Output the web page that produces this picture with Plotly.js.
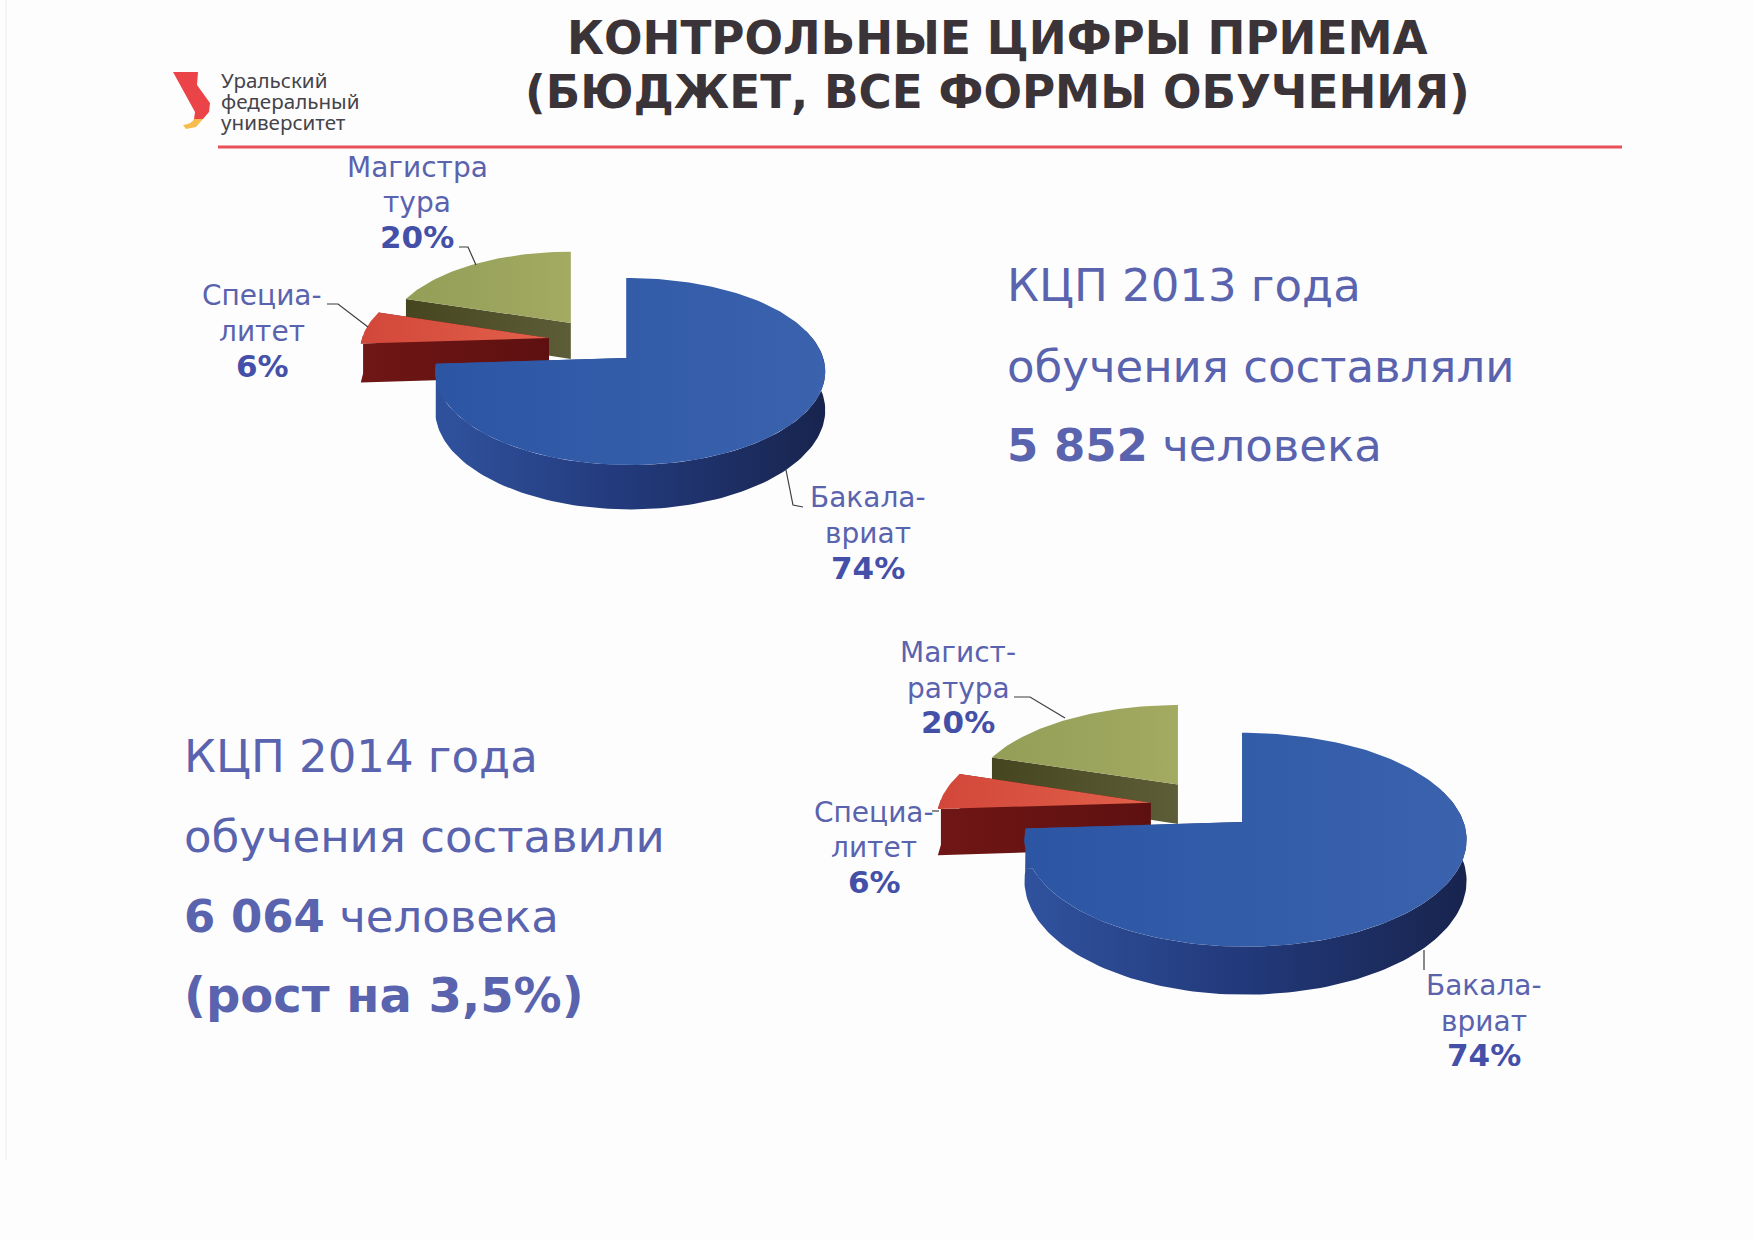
<!DOCTYPE html>
<html><head><meta charset="utf-8">
<script src="https://cdn.plot.ly/plotly-3.0.1.min.js"></script>
<style>html,body{margin:0;padding:0;background:#fdfdfe}</style></head>
<body><div id="chart" style="width:1753px;height:1240px"></div>
<script>
// ---- data ----
const categories = ["Бакалавриат", "Специалитет", "Магистратура"];
const shares2013 = [74, 6, 20];
const shares2014 = [74, 6, 20];
const title1 = "КОНТРОЛЬНЫЕ ЦИФРЫ ПРИЕМА";
const title2 = "(БЮДЖЕТ, ВСЕ ФОРМЫ ОБУЧЕНИЯ)";
const logoLines = ["Уральский", "федеральный", "университет"];
const labels2013 = [["Бакала-", "вриат"], ["Специа-", "литет"], ["Магистра", "тура"]];
const labels2014 = [["Бакала-", "вриат"], ["Специа-", "литет"], ["Магист-", "ратура"]];
const text2013 = ["КЦП 2013 года", "обучения составляли", "<b>5 852</b> человека"];
const text2014 = ["КЦП 2014 года", "обучения составили", "<b>6 064</b> человека", "<b>(рост на 3,5%)</b>"];

// ---- presentation ----
const textBlue = "#5a63ae", boldBlue = "#4450a8";
const topColors  = [["#2c56a4","#3a62ad"], ["#d2473a","#e2604a"], ["#939e56","#a3aa62"]];
const sideColors = [["#30529e","#22397a","#18244e"], ["#701616","#5e1010"], ["#45451f","#5d5e38"]];
const charts = [
  {shares: shares2013, cx: 632, cy: 358, rx: 193, ry: 91.6, k: .144, depth: 38,
   off: [[-.030,0],[-.43,.225],[-.317,.404]], radius: [1,1,.99], arcShift: [4,0,0], depthMult: [1,1.05,1]},
  {shares: shares2014, cx: 1249, cy: 822, rx: 218, ry: 104, k: .166, depth: 40,
   off: [[-.032,0],[-.45,.191],[-.326,.383]], radius: [1,1,1], arcShift: [3.5,0,0], depthMult: [1,1.18,1.05]}
];
const rad = d => d * Math.PI / 180;
function scale(stops){return stops.map((c,i)=>[i/(stops.length-1),c]);}
function pt(c, i, a, z, r){
  const o = c.off[i];
  const lu = r*Math.sin(rad(a)), v = o[1] + r*Math.cos(rad(a));
  const s = 1/(1 + c.k*v);
  const ease = Math.min(1, a/40);
  return [c.cx + c.rx*(o[0] + lu*s) + (r ? c.arcShift[i]*ease : 0), c.cy - c.ry*v*s + z*c.depth*c.depthMult[i]*s];
}
function range(a0,a1){const n=Math.max(2,Math.ceil((a1-a0)/1.5));const out=[];for(let i=0;i<=n;i++)out.push(a0+(a1-a0)*i/n);return out;}
function poly(pts,acc){pts.forEach(p=>{acc.x.push(p[0]);acc.y.push(p[1]);});acc.x.push(pts[0][0]);acc.y.push(pts[0][1]);acc.x.push(null);acc.y.push(null);}
const traces = [];
charts.forEach(c=>{
  let acc = 0; const wedges = c.shares.map((v,i)=>{const w={i,a0:acc*3.6,a1:(acc+v)*3.6};acc+=v;return w;});
  [2,1,0].forEach(i=>{
    const w = wedges[i], R = c.radius[i];
    const side = {x:[],y:[]};
    [w.a0,w.a1].forEach(a=>poly([pt(c,i,a,0,0),pt(c,i,a,0,R),pt(c,i,a,1,R),pt(c,i,a,1,0)],side));
    const r0=Math.max(w.a0,72), r1=Math.min(w.a1,272);
    if(r1>r0){const arc=range(r0,r1);poly(arc.map(a=>pt(c,i,a,0,R)).concat(arc.slice().reverse().map(a=>pt(c,i,a,1,R))),side);}
    traces.push({type:"scatter",mode:"lines",name:categories[i]+" (бок)",x:side.x,y:side.y,fill:"toself",line:{width:0},
      fillgradient:{type:"horizontal",colorscale:scale(sideColors[i])},hoverinfo:"skip",showlegend:false});
    const top = {x:[],y:[]};
    poly([pt(c,i,0,0,0)].concat(range(w.a0,w.a1).map(a=>pt(c,i,a,0,R))),top);
    traces.push({type:"scatter",mode:"lines",name:categories[i],x:top.x,y:top.y,fill:"toself",line:{width:0},
      fillgradient:{type:"horizontal",colorscale:scale(topColors[i])},hoverinfo:"name",showlegend:false});
  });
});

const ann = [];
function txt(x,y,text,size,color,anchor,family){
  ann.push({xref:"x",yref:"y",x,y,text,showarrow:false,xanchor:anchor||"center",yanchor:"middle",
    font:{family:family||"DejaVu Sans",size,color}});
}
txt(997,38,"<b>"+title1+"</b>",45.3,"#3a3338");
txt(997,92,"<b>"+title2+"</b>",45.3,"#3a3338");
logoLines.forEach((t,i)=>txt(219,[80,101,122][i],t,20.6,"#45444a","left","Noto Sans"));
function label(x,ys,lines,v){
  txt(x,ys[0],lines[0],28,textBlue);txt(x,ys[1],lines[1],28,textBlue);
  txt(x,ys[2],"<b>"+v+"%</b>",31,boldBlue);
}
label(868,[497,533,568],labels2013[0],shares2013[0]);
label(262,[295,331,366],labels2013[1],shares2013[1]);
label(417,[167,202,237],labels2013[2],shares2013[2]);
label(1484,[985,1021,1055],labels2014[0],shares2014[0]);
label(874,[812,847,882],labels2014[1],shares2014[1]);
label(958,[652,688,722],labels2014[2],shares2014[2]);
text2013.forEach((t,i)=>txt(1005,[285,366,445][i],t,45,textBlue,"left"));
text2014.forEach((t,i)=>txt(182,[756,836,916,995][i],t,i===3?48:45,textBlue,"left"));

const leader = d => ({type:"path",xref:"x",yref:"y",path:d,line:{color:"#3d3d3d",width:1.2}});
const shapes = [
  {type:"line",xref:"x",yref:"y",x0:6,x1:6,y0:0,y1:1160,line:{color:"#ececec",width:1}},
  {type:"line",xref:"x",yref:"y",x0:218,x1:1622,y0:147,y1:147,line:{color:"#e8505a",width:3}},
  {type:"path",xref:"x",yref:"y",path:"M173 72 L198 72 L197 85 L210 103 L209 112 L203 119 L194 119 L195 112 Z",fillcolor:"#ea4448",line:{width:0}},
  {type:"path",xref:"x",yref:"y",path:"M194 119 L203 119 L196 127 L186 129 L183 125 Q192 124 194 119 Z",fillcolor:"#f6bd4c",line:{width:0}},
  leader("M459 247 L468 247 L476 265"), leader("M327 304 L338 304 L368 327"), leader("M786 470 L793 505 L803 507"),
  leader("M1014 697 L1030 697 L1065 718"), leader("M932 811 L939 811"), leader("M1424 950 L1424 970")
];

Plotly.newPlot("chart",traces,{
  width:1753,height:1240,margin:{l:0,r:0,t:0,b:0},
  paper_bgcolor:"#fdfdfe",plot_bgcolor:"rgba(0,0,0,0)",showlegend:false,
  xaxis:{range:[0,1753],visible:false,fixedrange:true},
  yaxis:{range:[1240,0],visible:false,fixedrange:true},
  annotations:ann,shapes:shapes
},{displayModeBar:false});
</script></body></html>
